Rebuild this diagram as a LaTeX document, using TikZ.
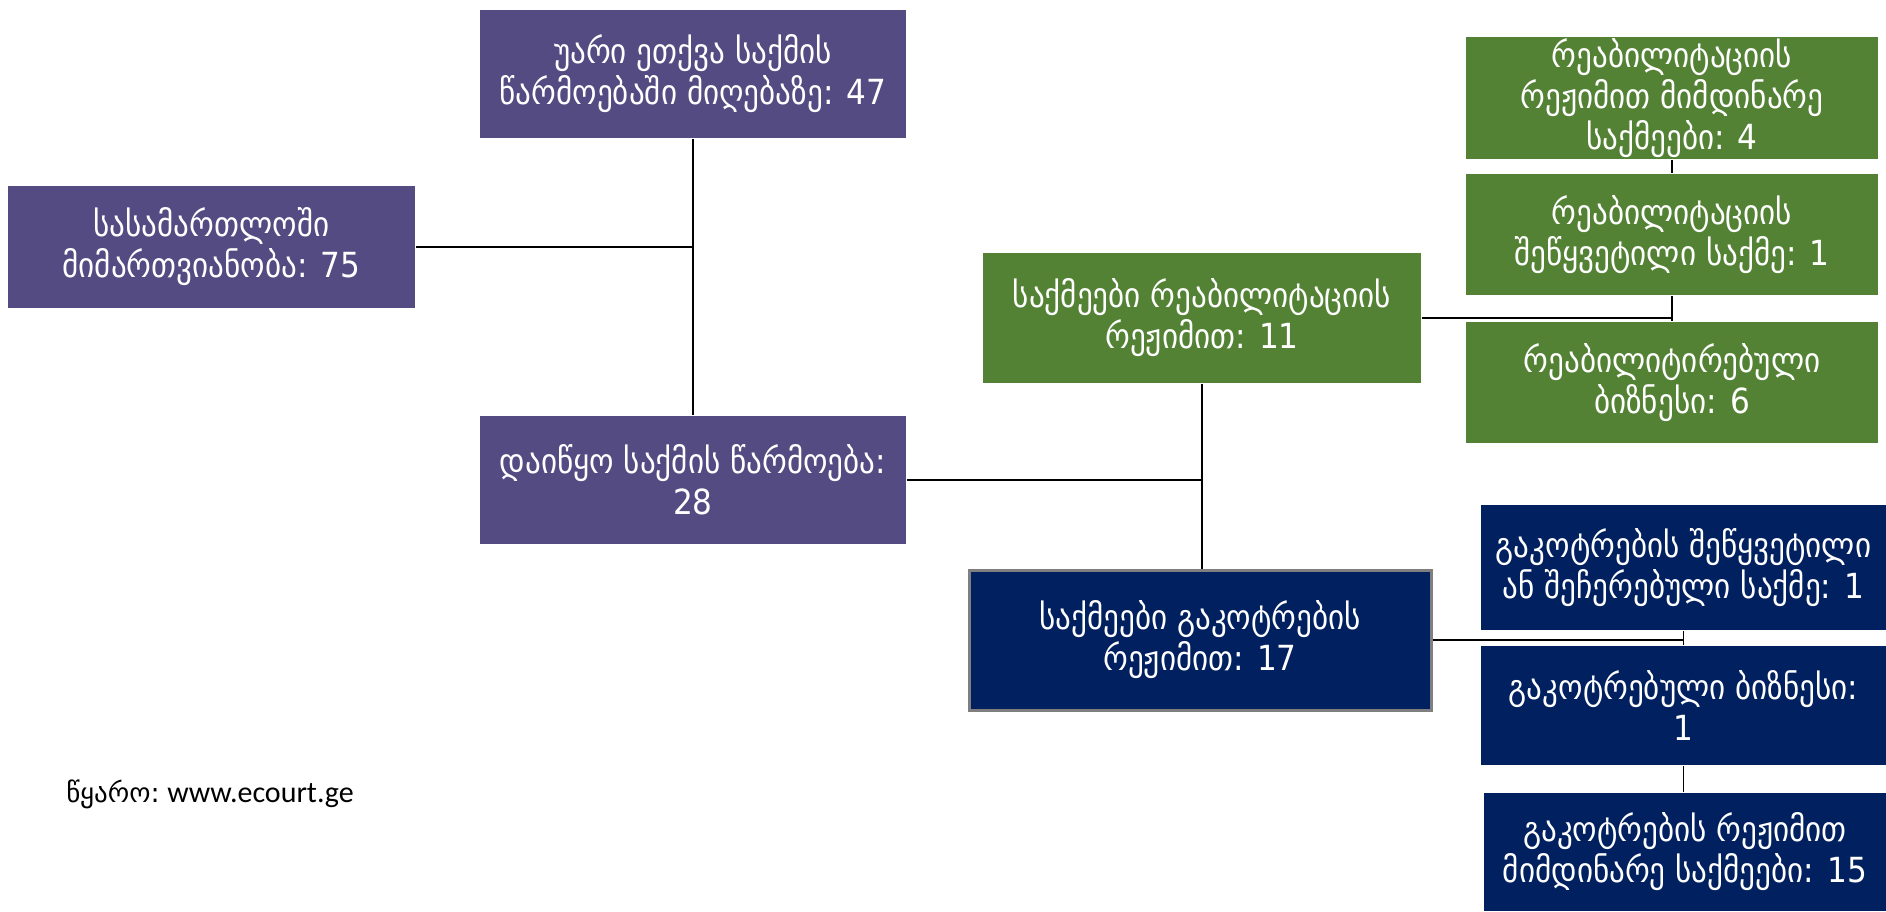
\documentclass[tikz,border=0pt]{standalone}
\usepackage{fontspec}
\setmainfont{DejaVu Sans Condensed}
\newfontfamily\srcfont{Carlito}
\newfontfamily\geofont{DejaVu Sans}

\definecolor{boxpurple}{RGB}{83,75,130}
\definecolor{boxgreen}{RGB}{84,130,53}
\definecolor{boxnavy}{RGB}{0,32,96}
\definecolor{boxrim}{RGB}{127,127,127}

\tikzset{every picture/.style={line width=0.75pt}}
\tikzset{
	casebox/.style={rectangle, inner sep=0.75pt, align=center, text=white, font=\fontsize{17.3}{20.5}\selectfont},
	purplebox/.style={casebox, fill=boxpurple},
	greenbox/.style={casebox, fill=boxgreen},
	navybox/.style={casebox, fill=boxnavy},
	link/.style={draw=black, line width=0.8pt}
}

\begin{document}
\begin{tikzpicture}[x=0.5pt,y=0.5pt,yscale=-1,xscale=1]
	\useasboundingbox (0,0) rectangle (1886,911);

	%Shape: Rectangle [purple column]
	\node [purplebox, minimum width=213pt, minimum height=64pt] (refused) at (693,74) {უარი ეთქვა საქმის\\წარმოებაში მიღებაზე: 47};
	\node [purplebox, minimum width=203.5pt, minimum height=61pt] (applied) at (211.5,247) {სასამართლოში\\მიმართვიანობა: 75};
	\node [purplebox, minimum width=213pt, minimum height=64pt] (started) at (693,480) {დაიწყო საქმის წარმოება:\\28};

	%Shape: Rectangle [middle column]
	\node [greenbox, minimum width=219pt, minimum height=65pt] (rehab) at (1202,318) {საქმეები რეაბილიტაციის\\რეჟიმით: 11};
	\node [navybox, draw=boxrim, line width=1.5pt, minimum width=231pt, minimum height=70pt] (bankrupt) at (1200,640) {საქმეები გაკოტრების\\რეჟიმით: 17};

	%Shape: Rectangle [green column]
	\node [greenbox, minimum width=206pt, minimum height=61pt] (rehabrun) at (1672,98) {რეაბილიტაციის\\რეჟიმით მიმდინარე\\საქმეები: 4};
	\node [greenbox, minimum width=206pt, minimum height=60.5pt] (rehabstop) at (1672,234.5) {რეაბილიტაციის\\შეწყვეტილი საქმე: 1};
	\node [greenbox, minimum width=206pt, minimum height=60.5pt] (rehabdone) at (1672,382.5) {რეაბილიტირებული\\ბიზნესი: 6};

	%Shape: Rectangle [navy column]
	\node [navybox, minimum width=202.5pt, minimum height=62.5pt] (bankstop) at (1683.5,567.5) {გაკოტრების შეწყვეტილი\\ან შეჩერებული საქმე: 1};
	\node [navybox, minimum width=202.5pt, minimum height=59.5pt] (bankdone) at (1683.5,705.5) {გაკოტრებული ბიზნესი:\\1};
	\node [navybox, minimum width=201pt, minimum height=59pt] (bankrun) at (1685,852) {გაკოტრების რეჟიმით\\მიმდინარე საქმეები: 15};

	%Straight Lines
	\draw [link] (refused.south) -- (started.north);
	\draw [link] (applied.east) -- (applied.east -| refused.south);
	\draw [link] (started.east) -- (started.east -| rehab.south);
	\draw [link] (rehab.south) -- (rehab.south |- bankrupt.north);
	\draw [link] (rehab.east) -- (rehab.east -| rehabrun.south);
	\draw [link] (rehabrun.south) -- (rehabstop.north);
	\draw [link] (rehabstop.south) -- (rehabdone.north);
	\draw [link] (bankrupt.east) -- (bankrupt.east -| bankstop.south);
	\draw [link] (bankstop.south) -- (bankdone.north);
	\draw [link] (bankdone.south) -- (bankdone.south |- bankrun.north);

	% Text Node
	\node [anchor=west, inner sep=0.75pt] (source) at (64,794) {{\geofont\fontsize{13.5}{16}\selectfont წყარო:} {\srcfont\fontsize{15}{18}\selectfont www.ecourt.ge}};

\end{tikzpicture}
\end{document}
